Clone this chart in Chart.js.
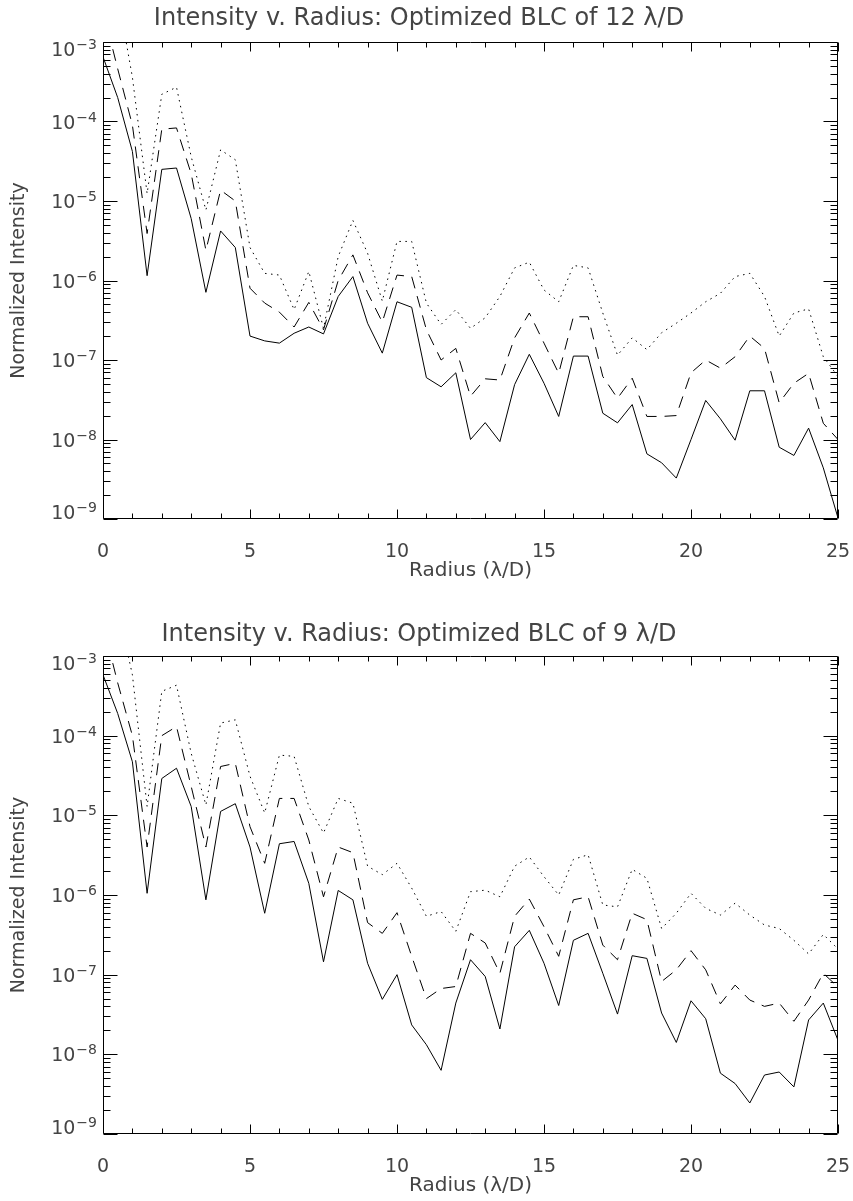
<!DOCTYPE html>
<html>
<head>
<meta charset="utf-8">
<script src="https://cdn.jsdelivr.net/npm/chart.js@4/dist/chart.umd.min.js"></script>
<style>
  body { margin: 0; background: #fff; }
  canvas { display: block; }
</style>
</head>
<body>
<canvas id="chart12" width="853" height="600"></canvas>
<canvas id="chart9" width="853" height="601"></canvas>
<script>
// radius in lambda/D
var radius = [0, 0.5, 1, 1.5, 2, 2.5, 3, 3.5, 4, 4.5, 5, 5.5, 6, 6.5, 7, 7.5, 8, 8.5, 9, 9.5,
  10, 10.5, 11, 11.5, 12, 12.5, 13, 13.5, 14, 14.5, 15, 15.5, 16, 16.5, 17, 17.5, 18, 18.5, 19, 19.5,
  20, 20.5, 21, 21.5, 22, 22.5, 23, 23.5, 24, 24.5, 25];

var xTickLabels = [0, 5, 10, 15, 20, 25];
var yDecades = [-9, -8, -7, -6, -5, -4, -3];

// BLC of 12 lambda/D
var solid12 = [6.5e-4, 2.0e-4, 4.2e-5, 1.15e-6, 2.5e-5, 2.6e-5, 6.0e-6, 7.1e-7, 4.2e-6, 2.6e-6,
  2.0e-7, 1.74e-7, 1.63e-7, 2.17e-7, 2.6e-7, 2.13e-7, 6.3e-7, 1.12e-6, 2.9e-7, 1.22e-7,
  5.4e-7, 4.6e-7, 6.0e-8, 4.6e-8, 6.9e-8, 1.0e-8, 1.63e-8, 9.4e-9, 4.9e-8, 1.18e-7,
  5.1e-8, 1.95e-8, 1.12e-7, 1.12e-7, 2.14e-8, 1.62e-8, 2.75e-8, 6.6e-9, 5.1e-9, 3.27e-9,
  1.0e-8, 3.1e-8, 1.82e-8, 9.8e-9, 4.1e-8, 4.1e-8, 8.0e-9, 6.3e-9, 1.39e-8, 4.4e-9, 1.03e-9];
var dashed12 = [2.5e-3, 4.6e-4, 9.0e-5, 3.9e-6, 8.0e-5, 8.3e-5, 2.2e-5, 2.4e-6, 1.37e-5, 1.0e-5,
  8.0e-7, 5.2e-7, 4.0e-7, 2.6e-7, 5.3e-7, 2.4e-7, 1.0e-6, 2.1e-6, 7.0e-7, 3.0e-7,
  1.17e-6, 1.12e-6, 2.4e-7, 1.0e-7, 1.4e-7, 3.5e-8, 5.8e-8, 5.6e-8, 1.9e-7, 3.9e-7,
  1.63e-7, 6.8e-8, 3.5e-7, 3.5e-7, 6.2e-8, 3.3e-8, 5.9e-8, 1.95e-8, 1.95e-8, 2.0e-8,
  6.9e-8, 1.0e-7, 7.9e-8, 1.1e-7, 2.0e-7, 1.4e-7, 2.9e-8, 5.1e-8, 6.8e-8, 1.6e-8, 1.0e-8];
var dotted12 = [5.0e-3, 4.0e-3, 3.6e-4, 1.24e-5, 2.2e-4, 2.7e-4, 3.6e-5, 7.7e-6, 4.4e-5, 3.3e-5,
  2.6e-6, 1.23e-6, 1.17e-6, 4.3e-7, 1.3e-6, 2.5e-7, 2.0e-6, 5.7e-6, 2.2e-6, 5.5e-7,
  3.1e-6, 3.1e-6, 5.2e-7, 2.8e-7, 4.3e-7, 2.5e-7, 3.4e-7, 6.3e-7, 1.44e-6, 1.7e-6,
  7.6e-7, 5.4e-7, 1.55e-6, 1.44e-6, 3.9e-7, 1.15e-7, 1.9e-7, 1.35e-7, 2.2e-7, 2.9e-7,
  3.9e-7, 5.4e-7, 6.9e-7, 1.12e-6, 1.23e-6, 6.3e-7, 2.0e-7, 3.9e-7, 4.4e-7, 1.1e-7, 6.2e-8];

// BLC of 9 lambda/D
var solid9 = [5.8e-4, 1.9e-4, 4.7e-5, 1.05e-6, 2.9e-5, 3.9e-5, 1.29e-5, 8.7e-7, 1.12e-5, 1.4e-5,
  4.0e-6, 5.9e-7, 4.4e-6, 4.7e-6, 1.4e-6, 1.45e-7, 1.14e-6, 8.7e-7, 1.39e-7, 4.9e-8,
  1.0e-7, 2.34e-8, 1.32e-8, 6.3e-9, 4.4e-8, 1.54e-7, 9.5e-8, 2.08e-8, 2.24e-7, 3.6e-7,
  1.39e-7, 4.1e-8, 2.7e-7, 3.3e-7, 1.04e-7, 3.2e-8, 1.73e-7, 1.6e-7, 3.3e-8, 1.41e-8,
  4.7e-8, 2.8e-8, 5.8e-9, 4.3e-9, 2.45e-9, 5.5e-9, 6.0e-9, 3.9e-9, 2.7e-8, 4.4e-8, 1.5e-8];
var dashed9 = [2.5e-3, 4.6e-4, 1.0e-4, 4.0e-6, 1.0e-4, 1.3e-4, 2.3e-5, 4.0e-6, 4.1e-5, 4.5e-5,
  7.2e-6, 2.5e-6, 1.63e-5, 1.63e-5, 4.9e-6, 9.5e-7, 4.0e-6, 3.4e-6, 4.5e-7, 3.3e-7,
  6.0e-7, 1.7e-7, 5.0e-8, 6.7e-8, 7.1e-8, 3.3e-7, 2.5e-7, 1.04e-7, 5.4e-7, 8.9e-7,
  4.0e-7, 1.7e-7, 8.7e-7, 9.5e-7, 2.35e-7, 1.54e-7, 5.9e-7, 4.9e-7, 8.2e-8, 1.15e-7,
  2.0e-7, 1.15e-7, 4.3e-8, 7.4e-8, 4.8e-8, 4.0e-8, 4.4e-8, 2.6e-8, 4.8e-8, 1.04e-7, 7.0e-8];
var dotted9 = [5.0e-3, 4.0e-3, 5.8e-4, 1.29e-5, 3.6e-4, 4.3e-4, 6.0e-5, 1.35e-5, 1.44e-4, 1.58e-4,
  3.1e-5, 1.07e-5, 5.7e-5, 5.5e-5, 1.29e-5, 6.0e-6, 1.63e-5, 1.42e-5, 2.3e-6, 1.8e-6,
  2.5e-6, 1.22e-6, 5.4e-7, 6.2e-7, 3.5e-7, 1.1e-6, 1.15e-6, 9.5e-7, 2.3e-6, 3.0e-6,
  1.7e-6, 1.0e-6, 2.8e-6, 3.2e-6, 7.5e-7, 7.1e-7, 2.1e-6, 1.62e-6, 3.8e-7, 5.9e-7,
  1.05e-6, 6.8e-7, 5.6e-7, 7.9e-7, 5.6e-7, 4.2e-7, 3.8e-7, 2.7e-7, 1.82e-7, 3.2e-7, 2.1e-7];

var FONT = '"DejaVu Sans", sans-serif';
var TEXT = '#444';

function points(values) {
  return radius.map(function (r, i) { return { x: r, y: values[i] }; });
}

function drawPower(ctx, exp, xRight, yBase) {
  var base = '10';
  var sup = (exp < 0 ? '\u2212' : '') + Math.abs(exp);
  ctx.font = '19px ' + FONT;
  var wb = ctx.measureText(base).width;
  ctx.font = '14px ' + FONT;
  var ws = ctx.measureText(sup).width;
  ctx.fillText(sup, xRight - ws, yBase - 7);
  ctx.font = '19px ' + FONT;
  ctx.fillText(base, xRight - ws - wb - 1, yBase);
}

// IDL style box: inward ticks on all four sides and power-of-ten labels
var boxTicks = {
  id: 'boxTicks',
  afterDatasetsDraw: function (chart) {
    var ctx = chart.ctx, a = chart.chartArea;
    var x = chart.scales.x, y = chart.scales.y;
    var L = Math.round(a.left) + 0.5, R = Math.round(a.right) - 0.5;
    var T = Math.round(a.top) + 0.5, B = Math.round(a.bottom) - 0.5;
    ctx.save();
    ctx.strokeStyle = '#000';
    ctx.lineWidth = 1;
    ctx.beginPath();
    ctx.rect(L, T, R - L, B - T);
    for (var v = 0; v <= 25; v++) {
      var px = Math.round(x.getPixelForValue(v)) + 0.5;
      var len = v % 5 === 0 ? 9 : 5;
      ctx.moveTo(px, B); ctx.lineTo(px, B - len);
      ctx.moveTo(px, T); ctx.lineTo(px, T + len);
    }
    yDecades.forEach(function (e) {
      for (var m = 1; m <= 9; m++) {
        if (e === -3 && m > 1) break;
        var py = Math.round(y.getPixelForValue(m * Math.pow(10, e))) + 0.5;
        var len = m === 1 ? 14 : 7;
        ctx.moveTo(L, py); ctx.lineTo(L + len, py);
        ctx.moveTo(R, py); ctx.lineTo(R - len, py);
      }
    });
    ctx.stroke();

    ctx.fillStyle = TEXT;
    ctx.textAlign = 'left';
    ctx.textBaseline = 'alphabetic';
    y.ticks.forEach(function (t, i) {
      var py = y.getPixelForValue(t.value);
      var exp = Math.round(Math.log10(t.value));
      var base = py + 7;
      if (i === 0) base = py;
      if (i === y.ticks.length - 1) base = py + 14;
      drawPower(ctx, exp, a.left - 6, base);
    });
    ctx.restore();
  }
};

function makeChart(id, title, solid, dashed, dotted, lay) {
  var ds = function (label, values, dash) {
    return {
      label: label,
      data: points(values),
      borderColor: '#000',
      borderWidth: 1,
      borderDash: dash,
      pointRadius: 0,
      tension: 0,
      fill: false
    };
  };
  return new Chart(document.getElementById(id), {
    type: 'line',
    data: {
      datasets: [
        ds('solid', solid, []),
        ds('dashed', dashed, [12, 8]),
        ds('dotted', dotted, [1.5, 4.5])
      ]
    },
    options: {
      responsive: false,
      animation: false,
      devicePixelRatio: 1,
      layout: { padding: { left: 0, right: 15, top: 0, bottom: 0 }, autoPadding: false },
      plugins: {
        legend: { display: false },
        tooltip: { enabled: false },
        title: {
          display: true,
          text: title,
          color: TEXT,
          font: { family: FONT, size: 24, weight: 'normal' },
          padding: { top: lay.titleTop, bottom: lay.titleBottom }
        }
      },
      scales: {
        x: {
          type: 'linear',
          min: 0,
          max: 25,
          grid: { display: false },
          border: { display: false },
          afterBuildTicks: function (s) {
            s.ticks = xTickLabels.map(function (v) { return { value: v }; });
          },
          afterFit: function (s) {
            s.height = lay.xHeight;
            s.paddingLeft = 0;
            s.paddingRight = 0;
          },
          ticks: {
            color: TEXT,
            font: { family: FONT, size: 19 },
            padding: 14,
            maxRotation: 0,
            autoSkip: false
          },
          title: {
            display: true,
            text: 'Radius (\u03bb/D)',
            color: TEXT,
            font: { family: FONT, size: 20 },
            padding: { top: 0, bottom: lay.xTitleBottom }
          }
        },
        y: {
          type: 'logarithmic',
          min: 1e-9,
          max: 1e-3,
          grid: { display: false },
          border: { display: false },
          afterBuildTicks: function (s) {
            s.ticks = yDecades.map(function (e) { return { value: Math.pow(10, e) }; });
          },
          afterFit: function (s) {
            s.width = 103;
            s.paddingTop = 0;
            s.paddingBottom = 0;
          },
          ticks: { display: false },
          title: {
            display: true,
            text: 'Normalized Intensity',
            color: TEXT,
            font: { family: FONT, size: 19 },
            padding: { top: 8, bottom: 0 }
          }
        }
      }
    },
    plugins: [boxTicks]
  });
}

makeChart('chart12', 'Intensity v. Radius: Optimized BLC of 12 \u03bb/D', solid12, dashed12, dotted12,
  { titleTop: 4.6, titleBottom: 8.6, xHeight: 81, xTitleBottom: 17 });
makeChart('chart9', 'Intensity v. Radius: Optimized BLC of 9 \u03bb/D', solid9, dashed9, dotted9,
  { titleTop: 20.6, titleBottom: 6.6, xHeight: 67, xTitleBottom: 3 });
</script>
</body>
</html>
